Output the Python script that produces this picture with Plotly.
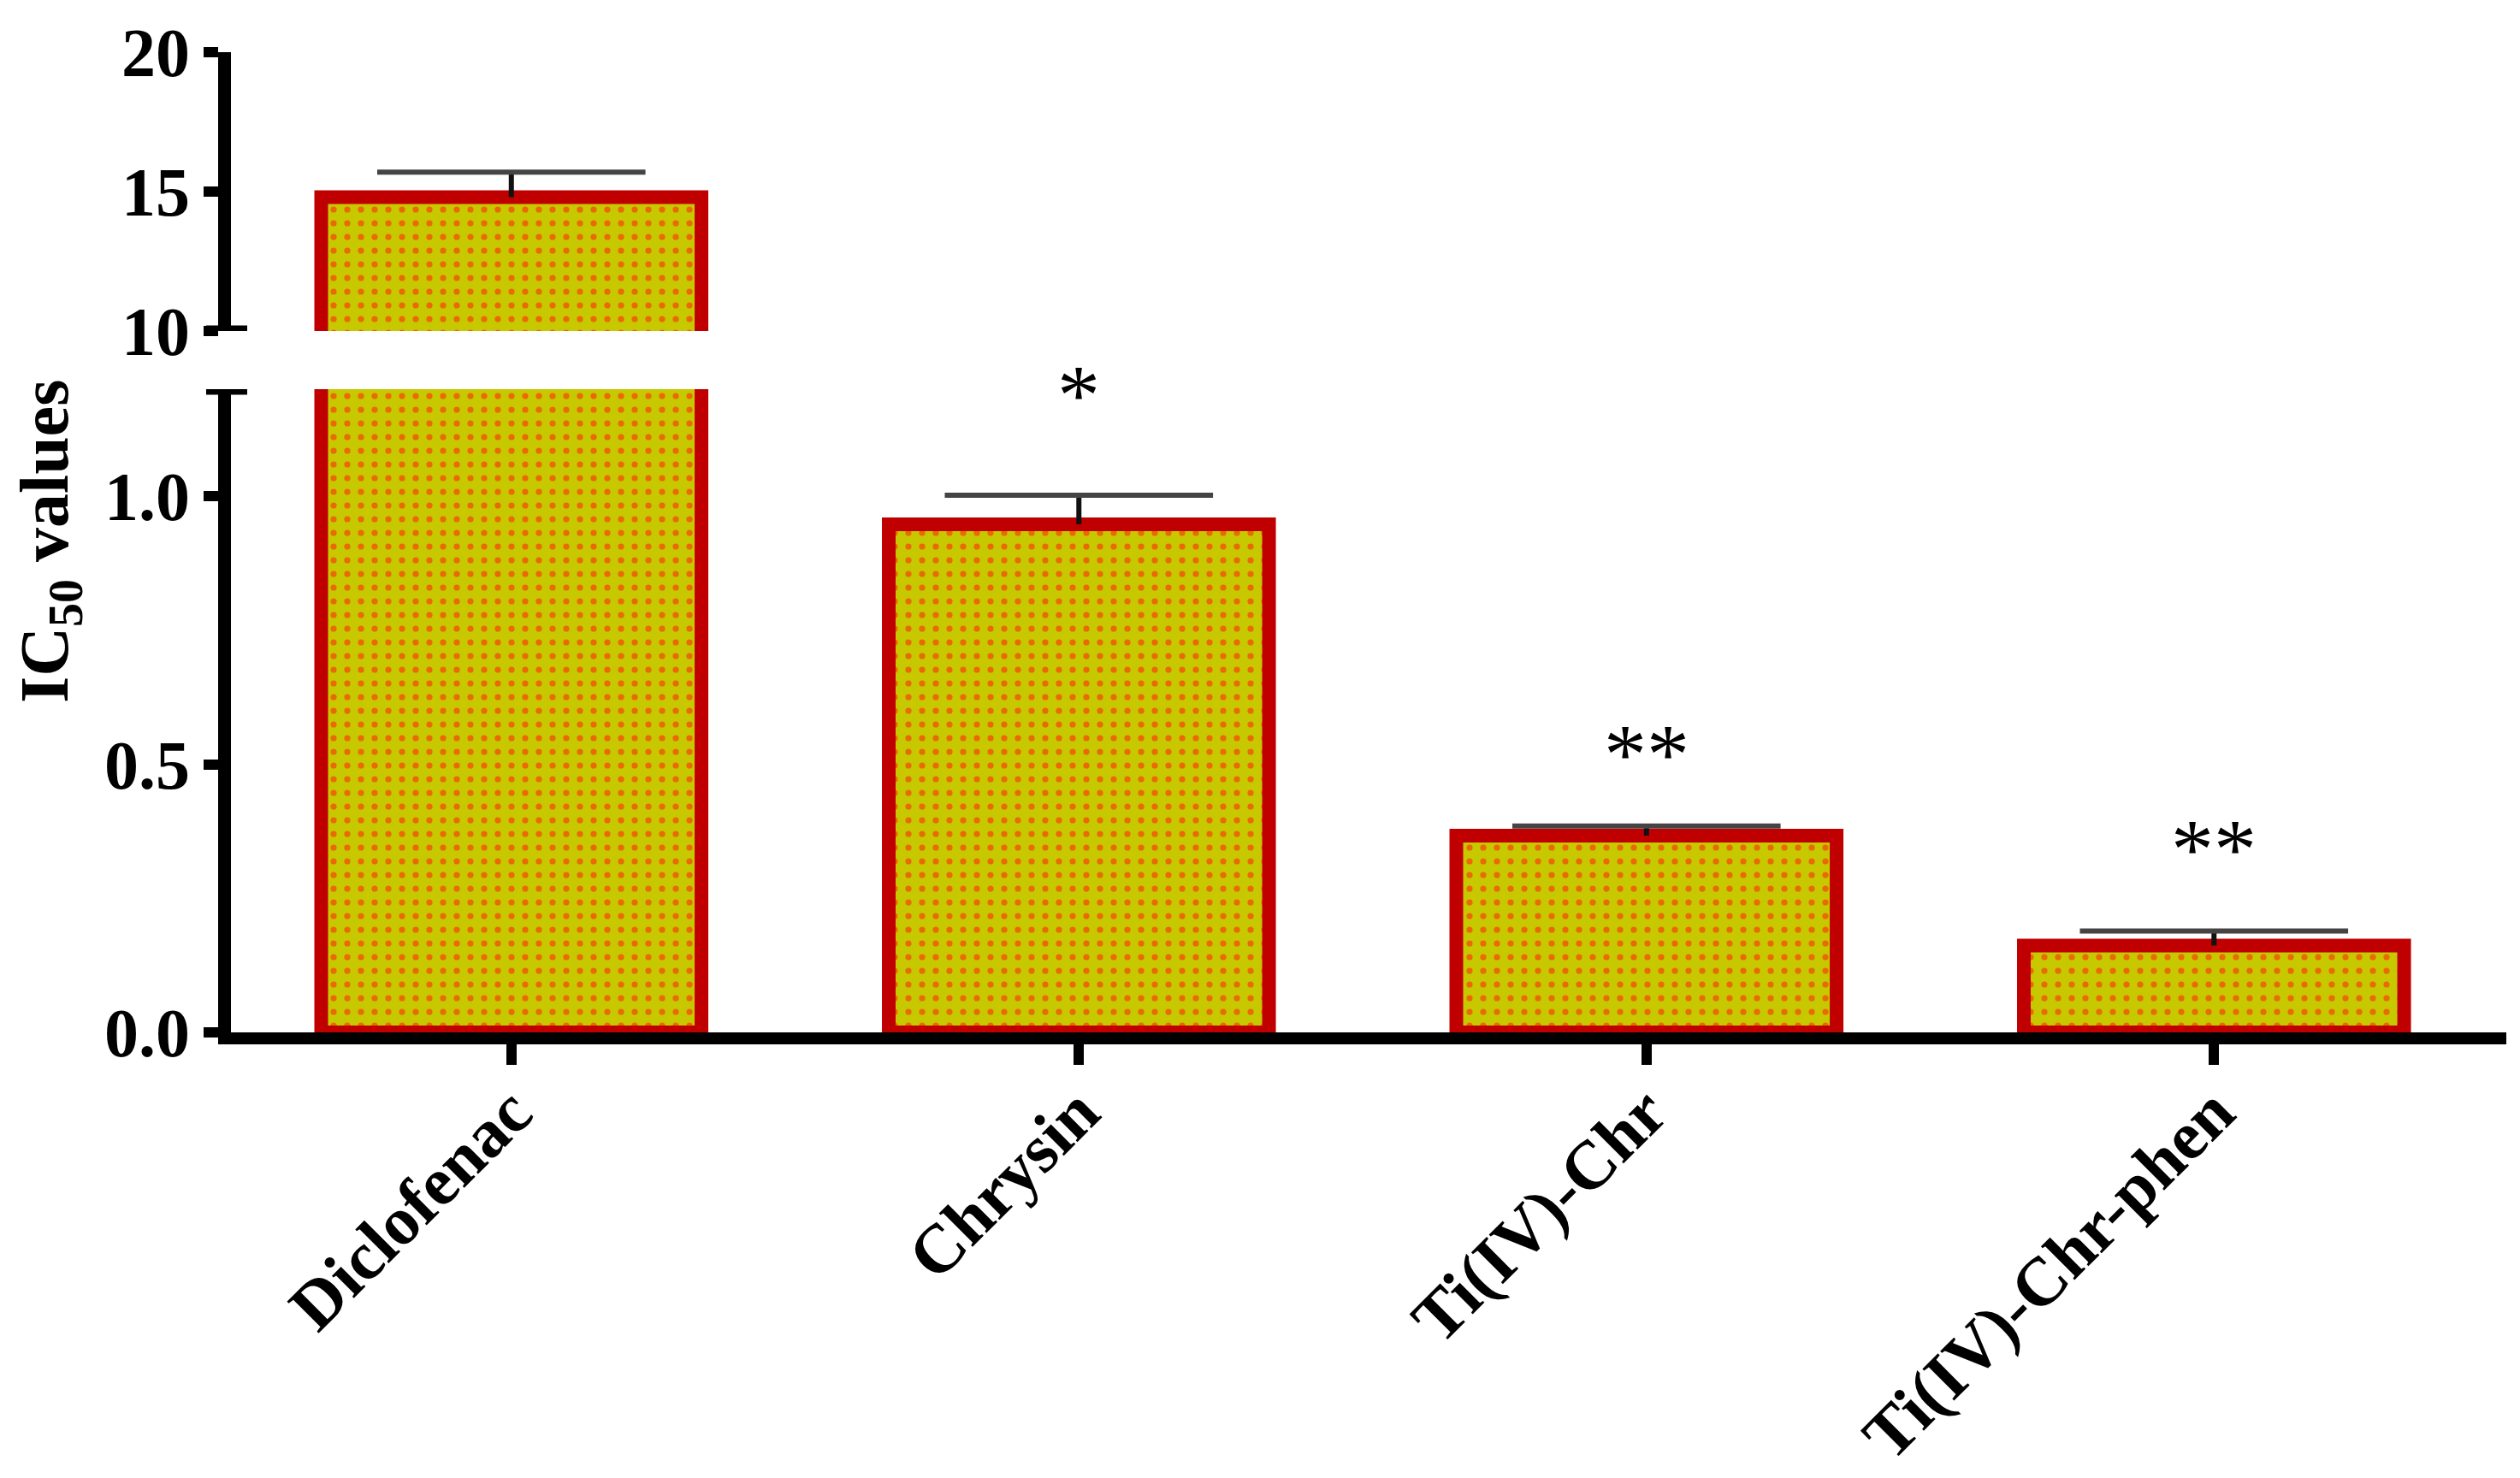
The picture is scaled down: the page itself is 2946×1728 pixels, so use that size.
import plotly.graph_objects as go

categories = ["Diclofenac", "Chrysin", "Ti(IV)-Chr", "Ti(IV)-Chr-phen"]
ic50_values = [14.8, 0.948, 0.367, 0.162]
ic50_errors = [0.9, 0.054, 0.018, 0.027]
sig_labels = ["", "*", "**", "**"]
sig_y = [None, 1.19, 0.52, 0.343]

low_ticks = [0.0, 0.5, 1.0]
high_ticks = [10, 15, 20]
low_range = [0, 1.2]
high_range = [10, 20]

FONT = "Liberation Serif"
BORDER = "#C00000"
FILL = "#C8C800"
DOT = "#E86A00"

W, H = 2946, 1728
L, R, T, B = 262, 24, 53, 529
plot_w = W - L - R
plot_h = H - T - B

# domains (pixel layout of the broken axis)
low_dom = [0, (1199 - 447) / plot_h]
high_dom = [(1199 - 379) / plot_h, 1]

err_tops = [v + e for v, e in zip(ic50_values, ic50_errors)]

def bar_trace(yaxis):
    return go.Bar(
        x=categories,
        y=ic50_values,
        width=0.67,
        xaxis="x",
        yaxis=yaxis,
        marker=dict(
            color=FILL,
            line=dict(color=BORDER, width=16),
            pattern=dict(shape=".", fgcolor=DOT, bgcolor=FILL,
                         size=16, solidity=0.16, fillmode="replace"),
        ),
        error_y=dict(type="data", symmetric=False, array=ic50_errors,
                     arrayminus=[0] * len(ic50_errors),
                     color="#111111", thickness=6, width=0),
        showlegend=False,
        hoverinfo="skip",
    )

def cap_trace(yaxis):
    return go.Scatter(
        x=categories, y=err_tops, xaxis="x", yaxis=yaxis, mode="markers",
        marker=dict(symbol="line-ew", size=224,
                    line=dict(color="#444444", width=6)),
        showlegend=False, hoverinfo="skip", cliponaxis=True,
    )

fig = go.Figure()
fig.add_trace(bar_trace("y"))
fig.add_trace(bar_trace("y2"))
fig.add_trace(cap_trace("y"))
fig.add_trace(cap_trace("y2"))

axis_common = dict(
    showline=True, linecolor="black", linewidth=15,
    ticks="outside", ticklen=17, tickwidth=12, tickcolor="black",
    showgrid=False, zeroline=False, automargin=False,
    tickfont=dict(family=FONT, size=80, color="black", weight="bold"),
)

fig.update_layout(
    width=W, height=H,
    margin=dict(l=L, r=R, t=T, b=B, autoexpand=False),
    paper_bgcolor="white", plot_bgcolor="white",
    xaxis=dict(
        anchor="y", range=[-0.494, 3.515], automargin=False,
        showline=True, linecolor="black", linewidth=14,
        ticks="outside", ticklen=24, tickwidth=12, tickcolor="black",
        tickangle=-45, showgrid=False, zeroline=False,
        ticklabelstandoff=-24,
        tickfont=dict(family=FONT, size=80, color="black", weight="bold"),
    ),
    yaxis=dict(domain=low_dom, range=low_range, tickvals=low_ticks,
               tickformat=".1f", anchor="x", **axis_common),
    yaxis2=dict(domain=high_dom, range=high_range, tickvals=high_ticks,
                anchor="x", **axis_common),
)

# axis-break caps
fig.add_shape(type="line", xref="paper", yref="y2",
              x0=(233 - L) / plot_w, x1=(281 - L) / plot_w,
              y0=high_range[0], y1=high_range[0],
              line=dict(color="black", width=13))
fig.add_shape(type="line", xref="paper", yref="y",
              x0=(233 - L) / plot_w, x1=(281 - L) / plot_w,
              y0=low_range[1], y1=low_range[1],
              line=dict(color="black", width=13))

# significance marks
for cat, lab, yy in zip(categories, sig_labels, sig_y):
    if lab:
        fig.add_annotation(x=cat, y=yy, xref="x", yref="y", text=lab,
                           showarrow=False, yanchor="middle",
                           font=dict(family=FONT, size=100, color="black"))

# y-axis title
fig.add_annotation(
    text="IC<sub>50</sub> values", xref="paper", yref="paper",
    x=(50 - L) / plot_w, y=(1199 - 625) / plot_h, textangle=-90,
    showarrow=False, xanchor="center", yanchor="middle",
    font=dict(family=FONT, size=80, color="black", weight="bold"),
)

fig.write_html("out.html")
